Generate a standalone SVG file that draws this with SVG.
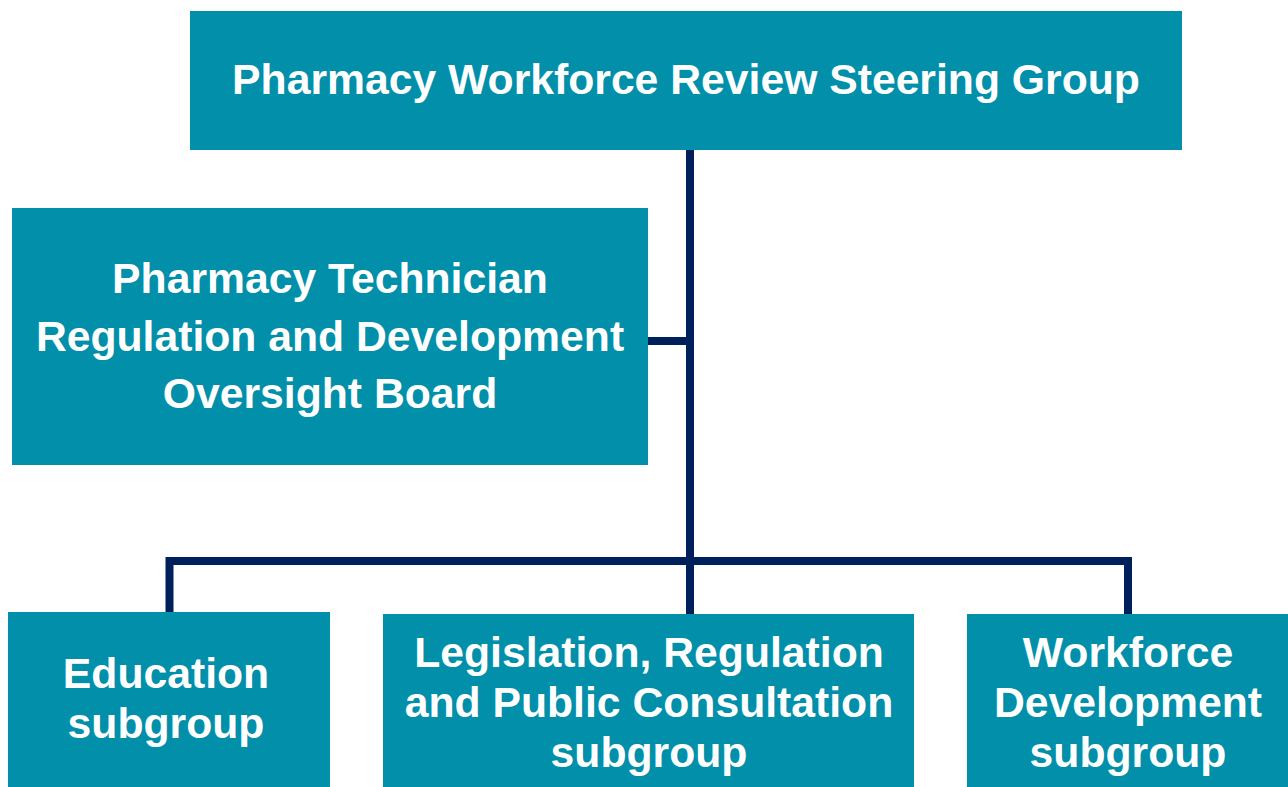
<svg xmlns="http://www.w3.org/2000/svg" width="1288" height="787" viewBox="0 0 1288 787">
<style>
.box{fill:#028faa;}
.t{font-family:"Liberation Sans",Arial,sans-serif;font-weight:bold;font-size:42.7px;fill:#ffffff;text-anchor:middle;}
.c{stroke:#00205b;stroke-width:8;fill:none;}
</style>
<rect width="1288" height="787" fill="#ffffff"/>
<g id="connectors">
<path class="c" d="M690 150 V614"/>
<path class="c" d="M648 341 H690"/>
<path class="c" d="M169.5 612 V561 H1128 V614"/>
</g>
<g id="steering">
<rect class="box" x="190" y="11" width="992" height="139"/>
<text class="t" x="686" y="94">Pharmacy Workforce Review Steering Group</text>
</g>
<g id="oversight">
<rect class="box" x="12" y="208" width="636" height="257"/>
<text class="t" x="330" y="293">Pharmacy Technician</text>
<text class="t" x="330" y="351">Regulation and Development</text>
<text class="t" x="330" y="408">Oversight Board</text>
</g>
<g id="education">
<rect class="box" x="8" y="612" width="322" height="175"/>
<text class="t" x="166" y="688">Education</text>
<text class="t" x="166" y="738">subgroup</text>
</g>
<g id="legislation">
<rect class="box" x="383" y="614" width="531" height="173"/>
<text class="t" x="649" y="667">Legislation, Regulation</text>
<text class="t" x="649" y="717">and Public Consultation</text>
<text class="t" x="649" y="767">subgroup</text>
</g>
<g id="workforce">
<rect class="box" x="967" y="614" width="321" height="173"/>
<text class="t" x="1128" y="667">Workforce</text>
<text class="t" x="1128" y="717">Development</text>
<text class="t" x="1128" y="767">subgroup</text>
</g>
</svg>
